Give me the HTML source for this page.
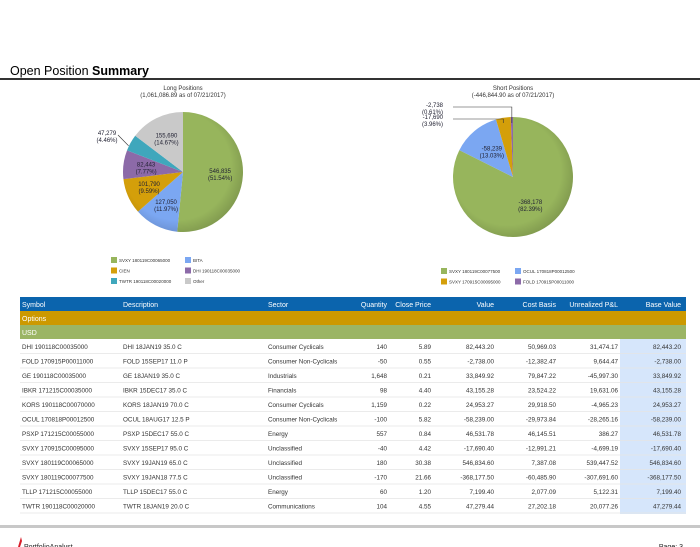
<!DOCTYPE html>
<html><head><meta charset="utf-8"><style>
body{margin:0;background:#fff;width:700px;height:547px;overflow:hidden;font-family:"Liberation Sans",sans-serif}
svg{display:block}
</style></head><body>
<svg width="700" height="547" viewBox="0 0 700 547" xmlns="http://www.w3.org/2000/svg">
<defs>
<radialGradient id="shade" cx="0.45" cy="0.45" r="0.6"><stop offset="0.75" stop-color="#000" stop-opacity="0"/><stop offset="1" stop-color="#000" stop-opacity="0.18"/></radialGradient>
</defs>
<text x="10" y="75" font-size="12.5" fill="#000">Open Position <tspan font-weight="bold">Summary</tspan></text>
<rect x="0" y="78" width="700" height="2" fill="#333"/>
<g id="longPie"></g>
<g id="shortPie"></g>
<g id="table"></g>
<rect x="0" y="525" width="700" height="3" fill="#c8c8c8"/>
<path d="M18 547 L21 537 L22 541 L20 547 Z" fill="#d81e2a"/>
<text x="24" y="549" font-size="7" fill="#222">PortfolioAnalyst</text>
<text x="683" y="549" font-size="7" fill="#222" text-anchor="end">Page: 3</text>
</svg>
<script>
const NS="http://www.w3.org/2000/svg";
const longLabels=["SVXY 180119C00065000","BITA","CIEN","DHI 190118C00035000","TWTR 190118C00020000","Other"];
const longValues=[546835,127050,101790,82443,47279,155690];
const longPcts=["51.54%","11.97%","9.59%","7.77%","4.46%","14.67%"];
const longColors=["#97b55c","#7ba7f2","#d49f0a","#8c6aa8","#3fa7bc","#c9c9c9"];
const shortLabels=["SVXY 180119C00077500","OCUL 170818P00012500","SVXY 170915C00095000","FOLD 170915P00011000"];
const shortValues=[-368178,-58239,-17690,-2738];
const shortPcts=["82.39%","13.03%","3.96%","0.61%"];
const shortColors=["#97b55c","#7ba7f2","#d49f0a","#8c6aa8"];

function el(tag,attrs,parent){const e=document.createElementNS(NS,tag);for(const k in attrs)e.setAttribute(k,attrs[k]);parent.appendChild(e);return e;}
function txt(parent,x,y,s,size,anchor,fill,weight){const t=el("text",{x:x,y:y,"font-size":size,"text-anchor":anchor||"start",fill:fill||"#222"},parent);if(weight)t.setAttribute("font-weight",weight);t.textContent=s;return t;}
function fmt(v){return Math.round(v).toLocaleString("en-US");}

function pie(g,cx,cy,r,values,colors,names,pcts,title,sub,labelMode){
  const tt=txt(g,cx,90,title,6,"middle","#333");
  
  
  const st=txt(g,cx,97,sub,6,"middle","#333");
  
  
  const total=values.reduce((a,b)=>a+Math.abs(b),0);
  let a0=-Math.PI/2;
  values.forEach((v,i)=>{
    const frac=Math.abs(v)/total;const a1=a0+frac*2*Math.PI;
    const large=frac>0.5?1:0;
    const d=`M${cx},${cy} L${cx+r*Math.cos(a0)},${cy+r*Math.sin(a0)} A${r},${r} 0 ${large} 1 ${cx+r*Math.cos(a1)},${cy+r*Math.sin(a1)} Z`;
    const p=el("path",{d:d,fill:colors[i]},g);
    
    
    const am=(a0+a1)/2;
    const lr=labelMode==="long"?(frac<0.06?r+22:r*0.62):(frac<0.05?null:r*0.55);
    if(lr!==null){
      let lx=cx+lr*Math.cos(am),ly=cy+lr*Math.sin(am);
      if(labelMode==="long"&&frac<0.06){lx=cx-r-16;ly=cy-36;
        el("line",{x1:lx+11,y1:ly-1,x2:cx+r*Math.cos(am)-2,y2:cy+r*Math.sin(am)+3,stroke:"#333","stroke-width":0.6},g);}
      const l1=txt(g,lx,ly-1,fmt(values[i]),6,"middle","#223");
      
      
      const l2=txt(g,lx,ly+6,"("+pcts[i]+")",6,"middle","#223");
      
      
    } else {
      const lx=cx-r+(i===3?-10:-10), ly=i===3?cy-68:cy-56;
      el("polyline",{points:`${lx+10},${ly-2} ${cx+r*Math.cos(am)},${ly-2} ${cx+r*Math.cos(am)},${cy-r+6}`,fill:"none",stroke:"#333","stroke-width":0.6},g);
      const l1=txt(g,lx,ly-2,fmt(values[i]),6,"end","#223");
      
      
      const l2=txt(g,lx,ly+5,"("+pcts[i]+")",6,"end","#223");
      
      
    }
    a0=a1;
  });
  el("circle",{cx:cx,cy:cy,r:r,fill:"url(#shade)"},g);
}
const LG=document.getElementById("longPie");
pie(LG,183,172,60,longValues,longColors,longLabels,longPcts,"Long Positions","(1,061,086.89 as of 07/21/2017)","long");
const SG=document.getElementById("shortPie");
pie(SG,513,177,60,shortValues,shortColors,shortLabels,shortPcts,"Short Positions","(-446,844.90 as of 07/21/2017)","short");

function legend(g,names,colors,x0,x1,y0){
  names.forEach((n,i)=>{
    const x=i%2?x1:x0,y=y0+Math.floor(i/2)*10.5;
    const e=el("g",{},g);
    
    
    el("rect",{x:x,y:y-5,width:6,height:6,fill:colors[i]},e);
    txt(e,x+8,y,n,4.5,"start","#333");
  });
}
legend(LG,longLabels,longColors,111,185,262);
legend(SG,shortLabels,shortColors,441,515,273);

const cols=["Symbol","Description","Sector","Quantity","Close Price","Value","Cost Basis","Unrealized P&L","Base Value"];
const colX=[22,123,268,387,431,494,556,618,681];
const colAnchor=["start","start","start","end","end","end","end","end","end"];
const rowsData=[
["DHI   190118C00035000","DHI 18JAN19 35.0 C","Consumer Cyclicals","140","5.89","82,443.20","50,969.03","31,474.17","82,443.20"],
["FOLD  170915P00011000","FOLD 15SEP17 11.0 P","Consumer Non-Cyclicals","-50","0.55","-2,738.00","-12,382.47","9,644.47","-2,738.00"],
["GE   190118C00035000","GE 18JAN19 35.0 C","Industrials","1,648","0.21","33,849.92","79,847.22","-45,997.30","33,849.92"],
["IBKR  171215C00035000","IBKR 15DEC17 35.0 C","Financials","98","4.40","43,155.28","23,524.22","19,631.06","43,155.28"],
["KORS  190118C00070000","KORS 18JAN19 70.0 C","Consumer Cyclicals","1,159","0.22","24,953.27","29,918.50","-4,965.23","24,953.27"],
["OCUL  170818P00012500","OCUL 18AUG17 12.5 P","Consumer Non-Cyclicals","-100","5.82","-58,239.00","-29,973.84","-28,265.16","-58,239.00"],
["PSXP  171215C00055000","PSXP 15DEC17 55.0 C","Energy","557","0.84","46,531.78","46,145.51","386.27","46,531.78"],
["SVXY  170915C00095000","SVXY 15SEP17 95.0 C","Unclassified","-40","4.42","-17,690.40","-12,991.21","-4,699.19","-17,690.40"],
["SVXY  180119C00065000","SVXY 19JAN19 65.0 C","Unclassified","180","30.38","546,834.60","7,387.08","539,447.52","546,834.60"],
["SVXY  180119C00077500","SVXY 19JAN18 77.5 C","Unclassified","-170","21.66","-368,177.50","-60,485.90","-307,691.60","-368,177.50"],
["TLLP  171215C00055000","TLLP 15DEC17 55.0 C","Energy","60","1.20","7,199.40","2,077.09","5,122.31","7,199.40"],
["TWTR  190118C00020000","TWTR 18JAN19 20.0 C","Communications","104","4.55","47,279.44","27,202.18","20,077.26","47,279.44"]];
const T=document.getElementById("table");
const font='"Liberation Sans","DejaVu Sans",sans-serif';
const hb=el("rect",{x:20,y:297,width:666,height:14,fill:"#0b64ad"},T);


cols.forEach((c,i)=>{const t=txt(T,colX[i],307,c,7,colAnchor[i],"#fff");
  
  });
const ob=el("rect",{x:20,y:311,width:666,height:14,fill:"#cc9900"},T);


txt(T,22,321,"Options",7,"start","#fff");
const ub=el("rect",{x:20,y:325,width:666,height:14,fill:"#9bb564"},T);


txt(T,22,335,"USD",7,"start","#fff");
el("rect",{x:620,y:339,width:66,height:175,fill:"#d6e6fb"},T);
rowsData.forEach((r,j)=>{
  const y=339+j*14.5;
  const g=el("g",{},T);
  
  
  el("line",{x1:20,y1:y+14.5,x2:686,y2:y+14.5,stroke:"#e4e4e4","stroke-width":0.7},g);
  r.forEach((v,i)=>{txt(g,colX[i],y+10,v,6.3,colAnchor[i],"#333").setAttribute("xml:space","preserve");});
});
</script>
</body></html>
